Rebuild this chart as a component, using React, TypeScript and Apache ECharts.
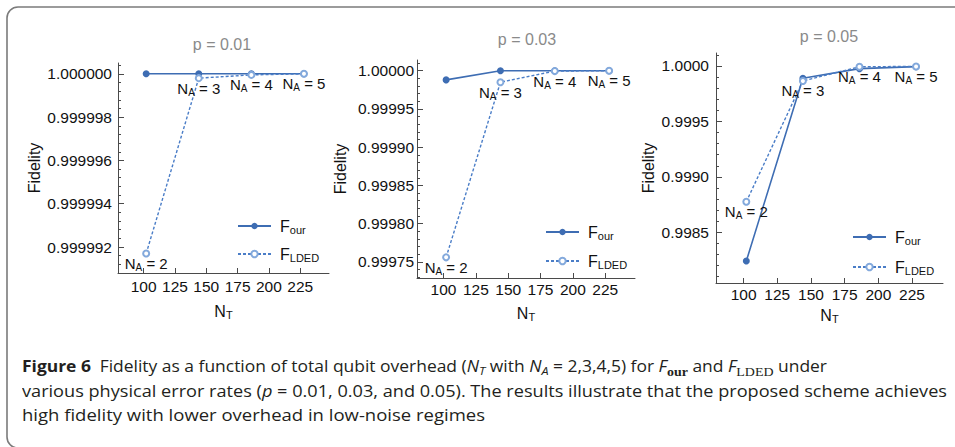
import React, { useEffect, useRef } from 'react';
import * as echarts from 'echarts';

// ---------- data ----------
const NA = [2, 3, 4, 5];
const NT = [102, 144, 186, 228];
const panelTitles = ['p = 0.01', 'p = 0.03', 'p = 0.05'];

const fOur001 = [1.0, 1.0, 1.0, 1.0];
const fLded001 = [0.9999917, 0.9999998, 0.99999995, 1.0];
const fOur003 = [0.999988, 1.0, 1.0, 1.0];
const fLded003 = [0.999756, 0.999985, 0.9999995, 1.0];
const fOur005 = [0.998241, 0.999889, 0.999976, 0.999994];
const fLded005 = [0.998776, 0.999865, 0.999993, 0.999996];

const xTicks = [100, 125, 150, 175, 200, 225];
const xRange = [79.5, 248];
const yTicks001 = [0.999992, 0.999994, 0.999996, 0.999998, 1.0];
const yTicks003 = [0.99975, 0.9998, 0.99985, 0.9999, 0.99995, 1.0];
const yTicks005 = [0.9985, 0.999, 0.9995, 1.0];
const yRange001 = [0.9999908, 1.0000005];
const yRange003 = [0.999729, 1.000014];
const yRange005 = [0.998043, 1.000117];
const yDecimals = [6, 5, 4];

const seriesOur = [fOur001, fOur003, fOur005];
const seriesLded = [fLded001, fLded003, fLded005];
const yTicks = [yTicks001, yTicks003, yTicks005];
const yRanges = [yRange001, yRange003, yRange005];

// ---------- layout / style ----------
const FONT = '"Liberation Sans", Arial, sans-serif';
const OUR_COLOR = '#3e6db3';
const LDED_COLOR = '#4a7dc7';
const LDED_SYMBOL = '#83a9dc';
const AXIS_COLOR = '#4a4a4a';

const layouts = [
  { grid: { left: 118, top: 63, width: 211, height: 210 }, title: [222, 44], yGap: 76, xGap: 29, yMargin: 6, xMargin: 5, legend: { left: 237, top: 218, gap: 11 } },
  { grid: { left: 417, top: 60, width: 218, height: 218 }, title: [527, 39], yGap: 69, xGap: 26, yMargin: 3, xMargin: 3, legend: { left: 545, top: 224, gap: 12 } },
  { grid: { left: 716, top: 53, width: 227, height: 230 }, title: [829, 36], yGap: 60, xGap: 23, yMargin: 7, xMargin: 3, legend: { left: 852, top: 229, gap: 13 } },
];

const subRich = {
  n: { fontSize: 15, lineHeight: 18, color: '#111', fontFamily: FONT },
  s: { fontSize: 10, lineHeight: 10, verticalAlign: 'bottom' as const, color: '#111', fontFamily: FONT },
};
const legendRich = {
  m: { fontSize: 16, lineHeight: 18, color: '#111', fontFamily: FONT, padding: [0, 0, 0, 4] },
  s: { fontSize: 11, lineHeight: 10, verticalAlign: 'bottom' as const, color: '#111', fontFamily: FONT },
};

function minorValues(ticks: number[], range: number[]): number[] {
  const step = (ticks[1] - ticks[0]) / 5;
  const out: number[] = [];
  const start = ticks[0];
  for (let k = -20; k <= 40; k++) {
    const v = start + k * step;
    if (v < range[0] - step * 1e-6 || v > range[1] + step * 1e-6) continue;
    if (Math.abs(Math.round(k / 5) * 5 - k) < 1e-9) continue;
    out.push(v);
  }
  return out;
}

function buildOption() {
  const grid: any[] = [];
  const xAxis: any[] = [];
  const yAxis: any[] = [];
  const series: any[] = [];
  const legend: any[] = [];
  const graphic: any[] = [];

  graphic.push({
    type: 'rect',
    shape: { x: 7, y: 7, width: 990, height: 441, r: 11 },
    style: { fill: 'none', stroke: '#7b7b7b', lineWidth: 1.6 },
    silent: true,
  });

  layouts.forEach((L, i) => {
    grid.push({ ...L.grid, containLabel: false });
    xAxis.push({
      type: 'value',
      gridIndex: i,
      min: xRange[0],
      max: xRange[1],
      name: '{n|N}{s|T}',
      nameLocation: 'middle',
      nameGap: L.xGap,
      nameTextStyle: { rich: { n: { ...subRich.n, fontSize: 16 }, s: { ...subRich.s, fontSize: 11 } } },
      axisLine: { show: true, onZero: false, lineStyle: { color: AXIS_COLOR, width: 1 } },
      axisTick: { show: true, inside: true, length: 5, customValues: xTicks, lineStyle: { color: AXIS_COLOR } },
      axisLabel: { customValues: xTicks, margin: L.xMargin, fontSize: 15.5, fontFamily: FONT, color: '#111' },
      splitLine: { show: false },
    });
    yAxis.push({
      type: 'value',
      gridIndex: i,
      min: yRanges[i][0],
      max: yRanges[i][1],
      name: 'Fidelity',
      nameLocation: 'middle',
      nameGap: L.yGap,
      nameTextStyle: { fontSize: 16, fontFamily: FONT, color: '#111' },
      axisLine: { show: true, onZero: false, lineStyle: { color: AXIS_COLOR, width: 1 } },
      axisTick: { show: true, inside: true, length: 6, customValues: yTicks[i], lineStyle: { color: AXIS_COLOR } },
      axisLabel: {
        customValues: yTicks[i],
        margin: L.yMargin,
        fontSize: 15.5,
        fontFamily: FONT,
        color: '#111',
        formatter: (v: number) => v.toFixed(yDecimals[i]),
      },
      splitLine: { show: false },
    });
    series.push({
      type: 'line',
      name: 'F_our',
      xAxisIndex: i,
      yAxisIndex: i,
      data: NT.map((x, k) => [x, seriesOur[i][k]]),
      symbol: 'circle',
      symbolSize: 7,
      itemStyle: { color: OUR_COLOR },
      lineStyle: { color: OUR_COLOR, width: 1.6 },
      z: 2,
    });
    series.push({
      type: 'line',
      name: 'F_LDED',
      xAxisIndex: i,
      yAxisIndex: i,
      data: NT.map((x, k) => [x, seriesLded[i][k]]),
      symbol: 'emptyCircle',
      symbolSize: 6,
      itemStyle: { color: LDED_SYMBOL, borderWidth: 1 },
      lineStyle: { color: LDED_COLOR, width: 1.4, type: [3, 2] },
      label: {
        show: true,
        position: 'bottom',
        distance: -3,
        formatter: (p: any) => `{n|N}{s|A}{n| = ${NA[p.dataIndex]}}`,
        rich: subRich,
      },
      z: 3,
    });
    legend.push({
      orient: 'vertical',
      left: L.legend.left,
      top: L.legend.top,
      padding: 0,
      itemWidth: 33,
      itemHeight: 8,
      itemGap: L.legend.gap,
      selectedMode: false,
      data: ['F_our', 'F_LDED'],
      formatter: (name: string) => (name === 'F_our' ? '{m|F}{s|our}' : '{m|F}{s|LDED}'),
      textStyle: { rich: legendRich },
    });
    graphic.push({
      type: 'text',
      x: L.title[0],
      y: L.title[1],
      style: {
        text: panelTitles[i],
        fill: '#8a8a8a',
        fontSize: 16,
        fontFamily: FONT,
        align: 'center',
        verticalAlign: 'middle',
      },
      silent: true,
    });
  });

  // overlay grids for minor ticks on the y axes
  layouts.forEach((L, i) => {
    const gi = grid.length;
    grid.push({ ...L.grid, containLabel: false });
    xAxis.push({ type: 'value', gridIndex: gi, min: xRange[0], max: xRange[1], show: false });
    yAxis.push({
      type: 'value',
      gridIndex: gi,
      min: yRanges[i][0],
      max: yRanges[i][1],
      axisLine: { show: false },
      axisTick: { show: true, inside: true, length: 3, customValues: minorValues(yTicks[i], yRanges[i]), lineStyle: { color: AXIS_COLOR } },
      axisLabel: { show: false },
      splitLine: { show: false },
    });
  });

  return {
    animation: false,
    backgroundColor: '#ffffff',
    textStyle: { fontFamily: FONT },
    grid,
    xAxis,
    yAxis,
    series,
    legend,
    graphic,
  };
}

const CAPTION_FONT = '"Open Sans", "Noto Sans", sans-serif';
const captionTargets = [805, 925, 463];
const captionTops = [356, 380.5, 405];

const subStyle: React.CSSProperties = { fontSize: '0.72em', verticalAlign: '-0.3em', lineHeight: 0 };
const serifSub: React.CSSProperties = { ...subStyle, fontFamily: '"Liberation Serif", "DejaVu Serif", serif', fontSize: '0.8em' };

export default function App() {
  const chartRef = useRef<HTMLDivElement>(null);
  const lineRefs = [useRef<HTMLDivElement>(null), useRef<HTMLDivElement>(null), useRef<HTMLDivElement>(null)];

  useEffect(() => {
    document.body.style.margin = '0';
    const el = chartRef.current;
    if (!el) return;
    const chart = echarts.init(el, undefined, { renderer: 'svg' });
    chart.setOption(buildOption() as any);

    const fit = () => {
      lineRefs.forEach((r, i) => {
        const node = r.current;
        if (!node) return;
        node.style.transform = 'none';
        const w = node.getBoundingClientRect().width;
        if (w > 0) node.style.transform = `scaleX(${captionTargets[i] / w})`;
      });
    };
    fit();
    if ((document as any).fonts && (document as any).fonts.ready) {
      (document as any).fonts.ready.then(fit);
    }
    return () => chart.dispose();
  }, []);

  const lineStyle = (i: number): React.CSSProperties => ({
    position: 'absolute',
    left: 22,
    top: captionTops[i],
    whiteSpace: 'nowrap',
    fontFamily: CAPTION_FONT,
    fontSize: 15.5,
    lineHeight: '20px',
    color: '#231f20',
    transformOrigin: '0 0',
  });

  return (
    <div style={{ position: 'relative', width: 955, height: 447, overflow: 'hidden', background: '#fff' }}>
      <div ref={chartRef} style={{ position: 'absolute', left: 0, top: 0, width: 955, height: 447 }} />
      <div ref={lineRefs[0]} style={lineStyle(0)}>
        <b>Figure 6</b>{'\u2002'}Fidelity as a function of total qubit overhead (<i>N</i>
        <sub style={subStyle}><i>T</i></sub> with <i>N</i>
        <sub style={subStyle}><i>A</i></sub> = 2,3,4,5) for <i>F</i>
        <sub style={{ ...serifSub, fontWeight: 'bold' }}>our</sub> and <i>F</i>
        <sub style={serifSub}>LDED</sub> under
      </div>
      <div ref={lineRefs[1]} style={lineStyle(1)}>
        various physical error rates (<i>p</i> = 0.01, 0.03, and 0.05). The results illustrate that the proposed scheme achieves
      </div>
      <div ref={lineRefs[2]} style={lineStyle(2)}>
        high fidelity with lower overhead in low-noise regimes
      </div>
    </div>
  );
}
